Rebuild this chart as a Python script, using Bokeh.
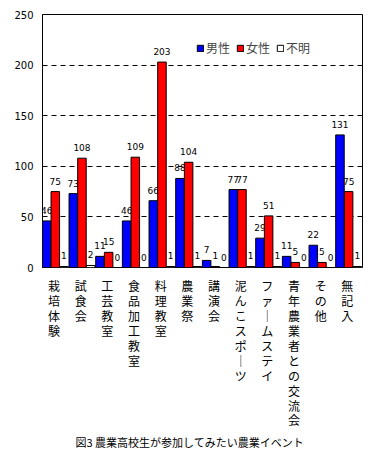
from bokeh.plotting import figure
from bokeh.layouts import column
from bokeh.models import (FactorRange, Range1d, FixedTicker, ColumnDataSource,
                          Legend, LegendItem, Title)
from bokeh.transform import dodge
from bokeh.core.properties import value
from bokeh.embed import file_html
from bokeh.resources import INLINE

categories = ["栽培体験", "試食会", "工芸教室", "食品加工教室", "料理教室", "農業祭",
              "講演会", "泥んこスポーツ", "ファームステイ", "青年農業者との交流会",
              "その他", "無記入"]
male = [46, 73, 11, 46, 66, 88, 7, 77, 29, 11, 22, 131]
female = [75, 108, 15, 109, 203, 104, 1, 77, 51, 5, 5, 75]
unknown = [1, 2, 0, 0, 1, 1, 0, 1, 1, 0, 0, 1]
series_names = ["男性", "女性", "不明"]
y_ticks = [0, 50, 100, 150, 200, 250]
title_text = "図3  農業高校生が参加してみたい農業イベント"

JP = "Noto Sans CJK JP"

src = ColumnDataSource(dict(
    cat=categories, male=male, female=female, unknown=unknown,
    male_t=[str(v) for v in male], female_t=[str(v) for v in female],
    unknown_t=[str(v) for v in unknown],
))

p = figure(frame_width=320, frame_height=253,
           x_range=FactorRange(*categories, range_padding=0),
           y_range=Range1d(0, 250), output_backend="svg", toolbar_location=None,
           min_border_left=42, min_border_right=8, min_border_top=14,
           min_border_bottom=7)
p.background_fill_color = "white"
p.border_fill_color = "white"
p.outline_line_color = "black"
p.outline_line_width = 1

offsets = [-0.345, -0.02, 0.305]
width = 0.32
fields = ["male", "female", "unknown"]
colors = ["#0000FF", "#FF0000", "#FFFFFF"]
renderers = []
for off, f, c in zip(offsets, fields, colors):
    r = p.vbar(x=dodge("cat", off, range=p.x_range), top=f, width=width, source=src,
               fill_color=c, line_color="black", line_width=1)
    renderers.append(r)
    p.text(x=dodge("cat", off, range=p.x_range), y=f, text=f + "_t", source=src,
           text_align="center", text_baseline="bottom", y_offset=-7,
           text_font=value("DejaVu Sans"), text_font_size="9px", text_color="black")

legend = Legend(items=[LegendItem(label=n, renderers=[r]) for n, r in zip(series_names, renderers)],
                orientation="horizontal", location=(154, 211),
                glyph_width=8, glyph_height=8, label_standoff=2, spacing=6,
                padding=0, margin=0, border_line_color=None, background_fill_alpha=0,
                label_text_font=JP, label_text_font_size="12px", label_height=14)
p.add_layout(legend)

p.xgrid.grid_line_color = None
p.ygrid.ticker = FixedTicker(ticks=y_ticks)
p.ygrid.grid_line_color = "black"
p.ygrid.grid_line_dash = "5 4"
p.ygrid.grid_line_width = 1

p.yaxis.ticker = FixedTicker(ticks=y_ticks)
p.yaxis.axis_line_color = "black"
p.yaxis.major_tick_in = 0
p.yaxis.major_tick_out = 0
p.yaxis.minor_tick_line_color = None
p.yaxis.major_label_standoff = 9
p.yaxis.major_label_text_font = "DejaVu Sans"
p.yaxis.major_label_text_font_size = "10px"
p.yaxis.major_label_text_color = "black"
p.xaxis.visible = False

# ---- vertical category labels (one character per row), sharing the x range ----
FH = 152
p2 = figure(frame_width=320, frame_height=FH, x_range=p.x_range, y_range=Range1d(FH, 0),
            output_backend="svg", toolbar_location=None,
            min_border_left=42, min_border_right=8, min_border_top=0,
            min_border_bottom=0)
p2.outline_line_color = None
p2.xaxis.visible = False
p2.yaxis.visible = False
p2.grid.grid_line_color = None
p2.background_fill_color = "white"
p2.border_fill_color = "white"

vert = [c.replace("ー", "｜") for c in categories]
nrows = max(len(v) for v in vert)
row_step = 14.94
for j in range(nrows):
    rsrc = ColumnDataSource(dict(cat=categories,
                                 ch=[v[j] if j < len(v) else "" for v in vert],
                                 y=[11 + row_step * j] * len(categories)))
    p2.text(x=dodge("cat", -0.07, range=p2.x_range), y="y", text="ch", source=rsrc,
            text_align="center", text_baseline="middle",
            text_font=value(JP), text_font_size="12px", text_color="black")

t = Title(text=title_text, align="left", offset=33, standoff=10, text_font=JP,
          text_font_size="11px", text_font_style="normal", text_color="black")
p2.add_layout(t, "below")

layout = column(p, p2, spacing=0)
open("out.html", "w").write(file_html(layout, INLINE))
